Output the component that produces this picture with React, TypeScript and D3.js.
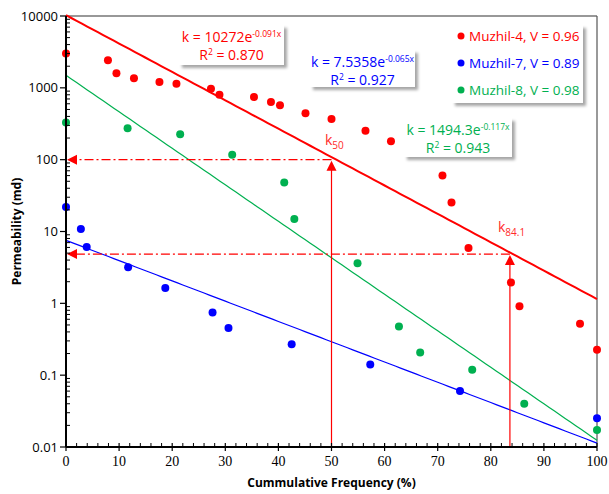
import React from 'react';
import * as d3 from 'd3';

// Muzhil well permeability data (cumulative frequency %, permeability md)
const m4Freq = [0, 7.9, 9.5, 12.8, 17.6, 20.8, 27.3, 28.9, 35.4, 38.6, 40.3, 45.1, 50.0, 56.4, 61.2, 70.9, 72.6, 75.8, 83.8, 85.4, 96.8, 100];
const m4Perm = [3000, 2415, 1592, 1355, 1205, 1140, 972, 802, 745, 634, 570, 442, 368, 253, 180, 60, 25.4, 5.9, 1.95, 0.91, 0.52, 0.225];
const m7Freq = [0, 2.8, 3.9, 11.7, 18.7, 27.6, 30.6, 42.5, 57.3, 74.2, 100];
const m7Perm = [21.9, 10.8, 6.1, 3.19, 1.64, 0.746, 0.452, 0.27, 0.141, 0.06, 0.0252];
const m8Freq = [0, 11.6, 21.5, 31.3, 41.1, 43.0, 54.9, 62.7, 66.7, 76.5, 86.3, 100];
const m8Perm = [330, 273, 225, 117, 48, 14.9, 3.6, 0.476, 0.207, 0.119, 0.040, 0.0173];

const seriesNames = ['Muzhil-4, V = 0.96', 'Muzhil-7, V = 0.89', 'Muzhil-8, V = 0.98'];
const seriesColors = ['#ff0000', '#0000ff', '#00b050'];
// exponential trend k = a * e^(b x)
const trendA = [10272, 7.5358, 1494.3];
const trendB = [-0.091, -0.065, -0.117];
const trendR2 = ['0.870', '0.927', '0.943'];

const yTicks = [0.01, 0.1, 1, 10, 100, 1000, 10000];
const xTicks = d3.range(0, 101, 10);

// k50 and k84.1 read-offs
const k50 = { x: 50, k: 100 };
const k841 = { x: 83.6, k: 4.85 };

const W = 609, H = 494;
const margin = { top: 16, right: 12, bottom: 47, left: 66 };

const App = () => {
  const x = d3.scaleLinear().domain([0, 100]).range([margin.left, W - margin.right]);
  const y = d3.scaleLog().domain([0.01, 10000]).range([H - margin.bottom, margin.top]);
  const x0 = x(0), x1 = x(100), y0 = y(0.01), y1 = y(10000);

  const series = [
    { f: m4Freq, p: m4Perm },
    { f: m7Freq, p: m7Perm },
    { f: m8Freq, p: m8Perm },
  ];

  const minorY: number[] = [];
  yTicks.slice(0, -1).forEach(t => { for (let i = 2; i <= 9; i++) minorY.push(t * i); });
  const minorX = d3.range(0, 101, 2).filter(v => v % 10 !== 0);

  const trendPath = (i: number) => {
    const pts = d3.range(0, 100.5, 1).map(v => [x(v), y(trendA[i] * Math.exp(trendB[i] * v))] as [number, number]);
    return d3.line()(pts) || '';
  };

  const dashDot = '9,3,2,3';
  const eqFont = 'Open Sans, Noto Sans, sans-serif';

  const eqBox = (i: number, bx: number, by: number, bw: number, bh: number) => {
    const aStr = i === 0 ? '10272' : i === 1 ? '7.5358' : '1494.3';
    const cx = bx + bw / 2;
    return (
      <g key={'eq' + i}>
        <rect x={bx} y={by} width={bw} height={bh} fill="#fff" filter="url(#shadow)" />
        <text x={cx} y={by + 17} textAnchor="middle" fontSize={14} fill={seriesColors[i]} fontFamily={eqFont}>
          k = {aStr}e<tspan dy={-5} fontSize={8.5}>{trendB[i].toFixed(3)}x</tspan>
        </text>
        <text x={cx} y={by + 35} textAnchor="middle" fontSize={14} fill={seriesColors[i]} fontFamily={eqFont}>
          R<tspan dy={-5} fontSize={8.5}>2</tspan><tspan dy={5}> = {trendR2[i]}</tspan>
        </text>
      </g>
    );
  };

  return (
    <svg width={W} height={H} style={{ position: 'absolute', left: 0, top: 0, background: '#fff' }}>
      <defs>
        <filter id="shadow" x="-10%" y="-10%" width="130%" height="140%">
          <feDropShadow dx="3" dy="3" stdDeviation="1.5" floodColor="#000" floodOpacity="0.35" />
        </filter>
      </defs>
      <rect x={0} y={0} width={W} height={H} fill="#fff" />

      {/* plot frame */}
      <line x1={x0} x2={x1} y1={y1} y2={y1} stroke="#333" strokeWidth={1.2} />
      <line x1={x1} x2={x1} y1={y1} y2={y0} stroke="#555" strokeWidth={1.2} />

      {/* trend lines */}
      <path d={trendPath(0)} fill="none" stroke={seriesColors[0]} strokeWidth={2} />
      <path d={trendPath(1)} fill="none" stroke={seriesColors[1]} strokeWidth={1.2} />
      <path d={trendPath(2)} fill="none" stroke={seriesColors[2]} strokeWidth={1.2} />

      {/* k50 / k84.1 guides */}
      {[k50, k841].map((g, i) => (
        <g key={'g' + i}>
          <line x1={x(g.x)} x2={x(g.x)} y1={y0} y2={y(g.k) + 10} stroke="#ff0000" strokeWidth={1.2} />
          <path d={`M${x(g.x) - 5},${y(g.k) + 11} L${x(g.x)},${y(g.k) + 1} L${x(g.x) + 5},${y(g.k) + 11} z`} fill="#ff0000" />
          <line x1={x(g.x)} x2={x0 + 10} y1={y(g.k)} y2={y(g.k)} stroke="#ff0000" strokeWidth={1.2} strokeDasharray={dashDot} />
          <path d={`M${x0 + 1},${y(g.k)} L${x0 + 11},${y(g.k) - 5} L${x0 + 11},${y(g.k) + 5} z`} fill="#ff0000" />
        </g>
      ))}
      <text x={325} y={145} fontSize={14} fill="#ff2a2a" fontFamily={eqFont}>k<tspan dy={4} fontSize={10}>50</tspan></text>
      <text x={498} y={232} fontSize={14} fill="#ff2a2a" fontFamily={eqFont}>k<tspan dy={4} fontSize={10}>84.1</tspan></text>

      {/* points */}
      {series.map((s, i) => (
        <g key={'s' + i}>
          {s.f.map((f, j) => (
            <circle key={j} cx={x(f)} cy={y(s.p[j])} r={4} fill={seriesColors[i]} />
          ))}
        </g>
      ))}

      {/* y axis */}
      <line x1={x0} x2={x0} y1={y1} y2={y0} stroke="#000" strokeWidth={2} />
      {yTicks.map(t => (
        <g key={'yt' + t}>
          <line x1={x0 - 6} x2={x0} y1={y(t)} y2={y(t)} stroke="#000" strokeWidth={1.2} />
          <text x={x0 - 8} y={y(t)} dy="0.35em" textAnchor="end" fontSize={13} fontFamily={eqFont} fill="#000">
            {t >= 1 ? d3.format('d')(t) : String(t)}
          </text>
        </g>
      ))}
      {minorY.map((t, k) => (
        <line key={'ym' + k} x1={x0} x2={x0 + 4} y1={y(t)} y2={y(t)} stroke="#000" strokeWidth={1} />
      ))}

      {/* x axis */}
      <line x1={x0} x2={x1} y1={y0} y2={y0} stroke="#000" strokeWidth={2} />
      {xTicks.map(t => (
        <g key={'xt' + t}>
          <line x1={x(t)} x2={x(t)} y1={y0 - 4} y2={y0 + 4} stroke="#000" strokeWidth={1.2} />
          <text x={x(t)} y={y0 + 19} textAnchor="middle" fontSize={14} fontFamily="Liberation Serif, DejaVu Serif, serif" fill="#000">{t}</text>
        </g>
      ))}
      {minorX.map(t => (
        <line key={'xm' + t} x1={x(t)} x2={x(t)} y1={y0 - 4} y2={y0} stroke="#000" strokeWidth={1} />
      ))}

      {/* axis titles */}
      <text x={(x0 + x1) / 2} y={487} textAnchor="middle" fontSize={12} fontWeight="bold" fontFamily={eqFont} fill="#000">Cummulative Frequency (%)</text>
      <text transform={`translate(21,${(y0 + y1) / 2}) rotate(-90)`} textAnchor="middle" fontSize={12} fontWeight="bold" fontFamily={eqFont} fill="#000">Permeability (md)</text>

      {/* equation boxes */}
      {eqBox(0, 179, 25, 105, 40)}
      {eqBox(1, 310, 50, 105, 37)}
      {eqBox(2, 404, 118, 108, 39)}

      {/* legend */}
      <rect x={452} y={25} width={131} height={78} fill="#fff" filter="url(#shadow)" />
      {seriesNames.map((n, i) => (
        <g key={'lg' + i}>
          <circle cx={461} cy={36 + i * 27} r={3.5} fill={seriesColors[i]} />
          <text x={469} y={36 + i * 27} dy="0.35em" fontSize={13.5} fill={seriesColors[i]} fontFamily={eqFont}>{n}</text>
        </g>
      ))}
    </svg>
  );
};

export default App;
